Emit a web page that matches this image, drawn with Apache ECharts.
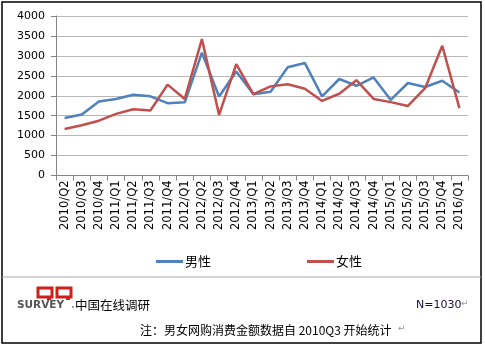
<!DOCTYPE html>
<html>
<head>
<meta charset="utf-8">
<script src="https://cdn.jsdelivr.net/npm/echarts@6/dist/echarts.min.js"></script>
<style>
  html, body { margin: 0; padding: 0; background: #fff; }
  #chart { width: 485px; height: 347px; }
</style>
</head>
<body>
<div id="chart"></div>
<script>
// Quarterly online-shopping spend by gender
const quarters = [
  '2010/Q2', '2010/Q3', '2010/Q4',
  '2011/Q1', '2011/Q2', '2011/Q3', '2011/Q4',
  '2012/Q1', '2012/Q2', '2012/Q3', '2012/Q4',
  '2013/Q1', '2013/Q2', '2013/Q3', '2013/Q4',
  '2014/Q1', '2014/Q2', '2014/Q3', '2014/Q4',
  '2015/Q1', '2015/Q2', '2015/Q3', '2015/Q4',
  '2016/Q1'
];
const male = [
  1440, 1530, 1855, 1920, 2025, 1985, 1815,
  1835, 3080, 1980, 2610, 2040, 2100, 2715, 2820,
  1985, 2420, 2250, 2460, 1895, 2320, 2220, 2375, 2080
];
const female = [
  1165, 1260, 1375, 1545, 1660, 1630, 2280,
  1920, 3420, 1520, 2795, 2040, 2235, 2290, 2175,
  1870, 2050, 2390, 1920, 1840, 1745, 2190, 3255, 1690
];
const yTicks = { min: 0, max: 4000, step: 500 };
const seriesNames = ['男性', '女性'];
const colors = ['#4F81BD', '#C0504D'];

const latin = '"DejaVu Sans", Verdana, sans-serif';
const cjk = '"Noto Sans CJK SC", "Noto Sans", sans-serif';

const chart = echarts.init(document.getElementById('chart'));
chart.setOption({
  animation: false,
  backgroundColor: '#ffffff',
  grid: { left: 56, right: 17, top: 16, bottom: 171.5 },
  legend: {
    data: seriesNames,
    top: 250,
    left: 151,
    itemGap: 96,
    itemWidth: 27,
    itemHeight: 3,
    icon: 'rect',
    textStyle: { fontFamily: cjk, fontSize: 13, color: '#000', padding: [0, 0, 0, -3] }
  },
  xAxis: {
    type: 'category',
    data: quarters,
    boundaryGap: true,
    axisLine: { lineStyle: { color: '#868686', width: 1 } },
    axisTick: { show: true, length: 5, lineStyle: { color: '#868686' } },
    axisLabel: {
      rotate: 90,
      interval: 0,
      margin: 5,
      fontFamily: latin,
      fontSize: 11.5,
      color: '#000'
    },
    splitLine: { show: false }
  },
  yAxis: {
    type: 'value',
    min: yTicks.min,
    max: yTicks.max,
    interval: yTicks.step,
    axisLine: { show: true, lineStyle: { color: '#868686', width: 1 } },
    axisTick: { show: true, length: 5, lineStyle: { color: '#868686' } },
    axisLabel: {
      fontFamily: latin, fontSize: 11, color: '#000', margin: 11,
      formatter: (v) => String(v)
    },
    splitLine: { lineStyle: { color: '#b8b8b8', width: 1 } }
  },
  series: [
    {
      name: seriesNames[0],
      type: 'line',
      data: male,
      symbol: 'none',
      lineStyle: { color: colors[0], width: 2.5 },
      itemStyle: { color: colors[0] },
      z: 2
    },
    {
      name: seriesNames[1],
      type: 'line',
      data: female,
      symbol: 'none',
      lineStyle: { color: colors[1], width: 2.5 },
      itemStyle: { color: colors[1] },
      z: 3
    }
  ],
  graphic: [
    // outer frame and divider
    { type: 'rect', shape: { x: 2, y: 2, width: 479, height: 341 },
      style: { fill: 'none', stroke: '#000', lineWidth: 1.5 }, silent: true },
    { type: 'line', shape: { x1: 2, y1: 277, x2: 481, y2: 277 },
      style: { stroke: '#a6a6a6', lineWidth: 1 }, silent: true },
    // logo: two red "Q" blocks with a notch at the lower right
    { type: 'rect', shape: { x: 38, y: 288, width: 14, height: 9 },
      style: { fill: 'none', stroke: '#d0201a', lineWidth: 3 } },
    { type: 'rect', shape: { x: 57, y: 288, width: 14, height: 9 },
      style: { fill: 'none', stroke: '#d0201a', lineWidth: 3 } },
    { type: 'rect', shape: { x: 47, y: 297, width: 4, height: 3 }, style: { fill: '#d0201a' } },
    { type: 'rect', shape: { x: 66, y: 297, width: 4, height: 3 }, style: { fill: '#d0201a' } },
    { type: 'text', style: { x: 17, y: 300, text: 'SURVEY', fontFamily: latin,
      fontWeight: 'bold', fontSize: 10.5, fill: '#555', textVerticalAlign: 'top' } },
    { type: 'circle', shape: { cx: 73, cy: 307, r: 1 }, style: { fill: '#888' } },
    { type: 'text', style: { x: 75, y: 305, text: '中国在线调研', fontFamily: cjk,
      fontSize: 12.5, fill: '#000', textVerticalAlign: 'middle' } },
    { type: 'text', style: { x: 416, y: 305, text: 'N=1030', fontFamily: latin,
      fontSize: 11, fill: '#1a0a3a', textVerticalAlign: 'middle' } },
    { type: 'text', style: { x: 461, y: 304, text: '↵', fontFamily: latin,
      fontSize: 9, fill: '#999', textVerticalAlign: 'middle' } },
    { type: 'text', style: { x: 140, y: 330, text: '注：男女网购消费金额数据自 2010Q3 开始统计', fontFamily: cjk,
      fontSize: 12, fill: '#000', textVerticalAlign: 'middle' } },
    { type: 'text', style: { x: 398, y: 329, text: '↵', fontFamily: latin,
      fontSize: 9, fill: '#999', textVerticalAlign: 'middle' } }
  ]
});
</script>
</body>
</html>
